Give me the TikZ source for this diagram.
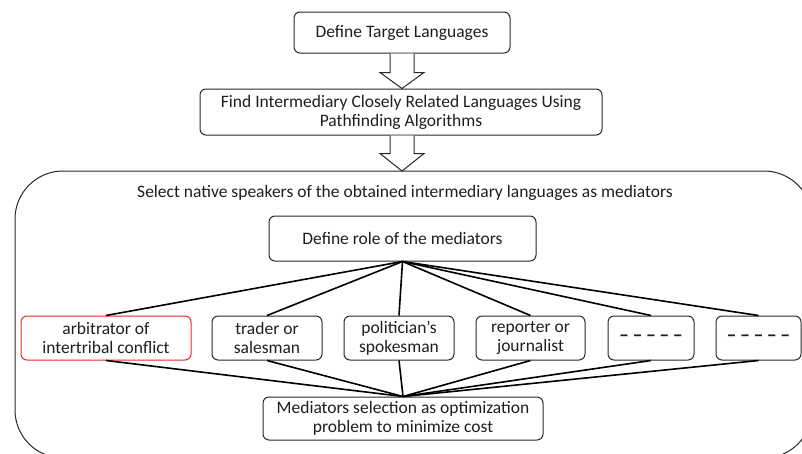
\documentclass[tikz,border=0pt]{standalone}
\usepackage{fontspec}
\setmainfont{Carlito}
\usetikzlibrary{calc}
\definecolor{boxred}{RGB}{235,40,40}
\definecolor{edge}{RGB}{40,40,40}
\definecolor{txt}{RGB}{30,30,30}
\begin{document}
\begin{tikzpicture}[x=1pt,y=-1pt,
  box/.style={draw=edge,line width=1pt,rounded corners=6pt,align=center,inner sep=1pt,text=txt,
    font=\fontsize{17.5}{19}\selectfont},
  link/.style={draw=black,line width=1.6pt},
  blockarrow/.style={draw=edge,line width=1pt,fill=white,line join=miter}]
\useasboundingbox (0,0) rectangle (802,453);
\clip (0,0) rectangle (802,453);
\node[box,minimum width=216pt,minimum height=41pt] (t1) at (402,32.5) {Define Target Languages};
\node[box,minimum width=402pt,minimum height=46pt] (t2) at (401,112) {Find Intermediary Closely Related Languages Using\\Pathfinding Algorithms};
\draw[edge,line width=1pt,rounded corners=48pt] (15,171) rectangle (812,458);
\coordinate (bigtop) at (402,171);
\node[font=\fontsize{17.5}{19}\selectfont,text=txt] (sel) at (405,193) {Select native speakers of the obtained intermediary languages as mediators};
\node[box,minimum width=267pt,minimum height=45pt] (role) at (402.5,238.5) {Define role of the mediators};
\node[box,draw=boxred,minimum width=170pt,minimum height=44pt] (r1) at (106,338) {arbitrator of\\intertribal conflict};
\node[box,minimum width=110pt,minimum height=44pt] (r2) at (267,338) {trader or\\salesman};
\node[box,minimum width=110pt,minimum height=44pt] (r3) at (399,338) {politician’s\\spokesman};
\node[box,minimum width=109pt,minimum height=44pt] (r4) at (530.5,338) {reporter or\\journalist};
\node[box,minimum width=86pt,minimum height=44pt] (r5) at (651,338) {\fontsize{20}{20}\selectfont\bfseries –\hspace{3.5pt}–\hspace{3.5pt}–\hspace{3.5pt}–\hspace{3.5pt}–};
\node[box,minimum width=85pt,minimum height=44pt] (r6) at (758.5,338) {\fontsize{20}{20}\selectfont\bfseries –\hspace{3.5pt}–\hspace{3.5pt}–\hspace{3.5pt}–\hspace{3.5pt}–};
\node[box,minimum width=280pt,minimum height=43pt] (opt) at (403,418.5) {Mediators selection as optimization\\problem to minimize cost};
% block arrows
\draw[blockarrow] ($(t1.south)+(-12,0)$) -- ($(t1.south)+(-12,19)$) -- ($(t1.south)+(-22,19)$)
  -- ($(t2.north)+(1,0)$) -- ($(t1.south)+(22,19)$) -- ($(t1.south)+(12,19)$) -- ($(t1.south)+(12,0)$);
\draw[blockarrow] ($(t2.south)+(-11,0)$) -- ($(t2.south)+(-11,18)$) -- ($(t2.south)+(-21,18)$)
  -- (bigtop) -- ($(t2.south)+(23,18)$) -- ($(t2.south)+(13,18)$) -- ($(t2.south)+(13,0)$);
% connectors
\foreach \r in {r1,r2,r3,r4,r5,r6}{
  \draw[link] (role.south) -- (\r.north);
  \draw[link] (\r.south) -- (opt.north);
}
\end{tikzpicture}
\end{document}
